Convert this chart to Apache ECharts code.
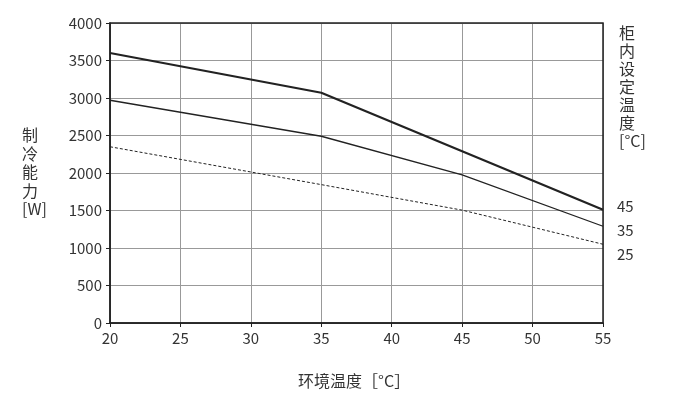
<!DOCTYPE html>
<html><head><meta charset="utf-8">
<script src="https://cdn.jsdelivr.net/npm/echarts@6/dist/echarts.min.js"></script>
<style>html,body{margin:0;background:#fff}#c{width:700px;height:410px}</style>
</head><body><div id="c"></div>
<script>
const xTicks = [20,25,30,35,40,45,50,55];
const s45 = [[20,3600],[35,3070],[45,2290],[55,1510]];
const s35 = [[20,2970],[35,2490],[45,1975],[55,1290]];
const s25 = [[20,2350],[35,1845],[45,1505],[55,1050]];
const names = ['45','35','25'];
const font = '"Noto Sans CJK SC","Noto Sans",sans-serif';
const ch = echarts.init(document.getElementById('c'));
function mk(name,data,w,type,off){
  return {name,type:'line',data,symbol:'none',lineStyle:{color:'#222',width:w,type},
    endLabel:{show:true,formatter:name,color:'#333',fontSize:15,fontFamily:font,offset:off},z:3};
}
ch.setOption({
  animation:false,
  grid:{left:110,right:97,top:23,bottom:87},
  xAxis:{type:'value',min:20,max:55,interval:5,
    axisLine:{lineStyle:{color:'#222',width:1.5}},axisTick:{show:true,length:4,lineStyle:{color:'#222'}},
    axisLabel:{color:'#333',fontSize:15,fontFamily:font,margin:8,formatter:v=>String(v)},
    splitLine:{show:true,lineStyle:{color:'#999'}}},
  yAxis:{type:'value',min:0,max:4000,interval:500,
    axisLine:{show:true,lineStyle:{color:'#222',width:1.5}},axisTick:{show:true,length:4,lineStyle:{color:'#222'}},
    axisLabel:{color:'#333',fontSize:15,fontFamily:font,margin:8,formatter:v=>String(v)},
    splitLine:{show:true,lineStyle:{color:'#999'}}},
  series:[mk(names[0],s45,2.2,'solid',[6,-3]),mk(names[1],s35,1.3,'solid',[6,4]),mk(names[2],s25,1,[3,2],[6,10])],
  graphic:[
    {type:'rect',shape:{x:110,y:23,width:493,height:300},style:{fill:'none',stroke:'#222',lineWidth:1.5},z:10},
    {type:'text',left:298,top:373,style:{text:'环境温度［°C］',fontSize:16,fontFamily:font,fill:'#333'}},
    {type:'text',left:22,top:126,style:{text:'制\n冷\n能\n力\n[W]',fontSize:16,lineHeight:18.5,fontFamily:font,fill:'#333',align:'center'}},
    {type:'text',left:619,top:24,style:{text:'柜\n内\n设\n定\n温\n度\n[°C]',fontSize:16,lineHeight:18,fontFamily:font,fill:'#333',align:'center'}}
  ]
});
</script></body></html>
